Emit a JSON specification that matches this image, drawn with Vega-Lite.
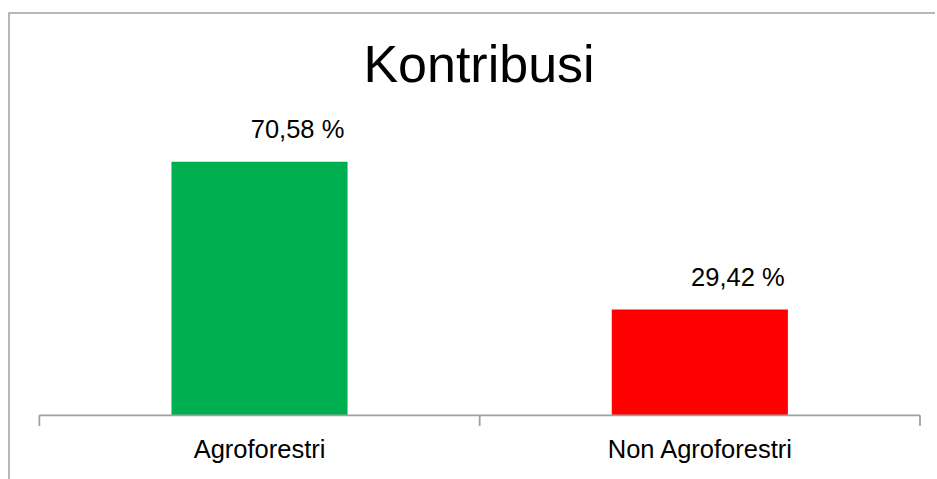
{
  "$schema": "https://vega.github.io/schema/vega-lite/v6.json",
  "width": 928,
  "height": 466,
  "autosize": {"type": "none"},
  "padding": {"left": 9, "top": 13, "right": 0, "bottom": 0},
  "background": "white",
  "config": {"view": {"stroke": "#a0a0a0", "strokeWidth": 1.5, "strokeDash": [926, 1396, 466, 100]}, "font": "Liberation Sans"},
  "title": {
    "text": "Kontribusi",
    "fontSize": 52,
    "fontWeight": "normal",
    "font": "Liberation Sans",
    "color": "#000000",
    "anchor": "middle",
    "baseline": "alphabetic",
    "offset": 0,
    "dy": 120.7,
    "dx": 6
  },
  "data": {
    "values": [
      {"cat": "Agroforestri", "value": 70.58},
      {"cat": "Non Agroforestri", "value": 29.42}
    ]
  },
  "transform": [
    {"calculate": "replace(format(datum.value, '.2f'), '.', ',') + ' %'", "as": "label"}
  ],
  "encoding": {
    "x": {
      "field": "cat", "type": "nominal", "sort": null,
      "scale": {"domain": ["Agroforestri", "Non Agroforestri"], "paddingInner": 0, "paddingOuter": 0.0538, "align": 0.641},
      "axis": {"orient": "bottom", "offset": -63.7, "domain": false, "ticks": false, "tickSize": 0, "labelPadding": 42, "labelBaseline": "alphabetic", "labelFontSize": 25.5, "labelFont": "Liberation Sans", "labelColor": "#000000", "labelAngle": 0, "labelLimit": 500, "grid": false, "title": null}
    }
  },
  "layer": [
    {
      "mark": {"type": "bar", "width": {"band": 0.4}},
      "encoding": {
        "y": {
          "field": "value", "type": "quantitative",
          "scale": {"domain": [-17.73, 111.97], "zero": false, "nice": false},
          "axis": null
        },
        "y2": {"datum": 0},
        "color": {
          "field": "cat", "type": "nominal",
          "scale": {"domain": ["Agroforestri", "Non Agroforestri"], "range": ["#00B050", "#FF0000"]},
          "legend": null
        }
      }
    },
    {
      "mark": {"type": "rule", "color": "#a0a0a0", "strokeWidth": 1.8},
      "encoding": {
        "x": {"field": "cat", "type": "nominal", "bandPosition": 0},
        "x2": {"field": "cat", "bandPosition": 1},
        "y": {"datum": 0, "axis": null}
      }
    },
    {
      "mark": {"type": "rule", "color": "#a0a0a0", "strokeWidth": 1.8},
      "encoding": {
        "x": {"field": "cat", "type": "nominal", "bandPosition": 0},
        "y": {"datum": 0, "axis": null},
        "y2": {"datum": -2.98}
      }
    },
    {
      "transform": [{"filter": "datum.cat === 'Non Agroforestri'"}],
      "mark": {"type": "rule", "color": "#a0a0a0", "strokeWidth": 1.8},
      "encoding": {
        "x": {"field": "cat", "type": "nominal", "bandPosition": 1},
        "y": {"datum": 0, "axis": null},
        "y2": {"datum": -2.98}
      }
    },
    {
      "mark": {"type": "text", "fontSize": 25.5, "baseline": "alphabetic", "align": "center", "dx": 38, "dy": -24, "font": "Liberation Sans", "color": "#000000"},
      "encoding": {
        "y": {"field": "value", "type": "quantitative", "axis": null},
        "text": {"field": "label"}
      }
    }
  ]
}
